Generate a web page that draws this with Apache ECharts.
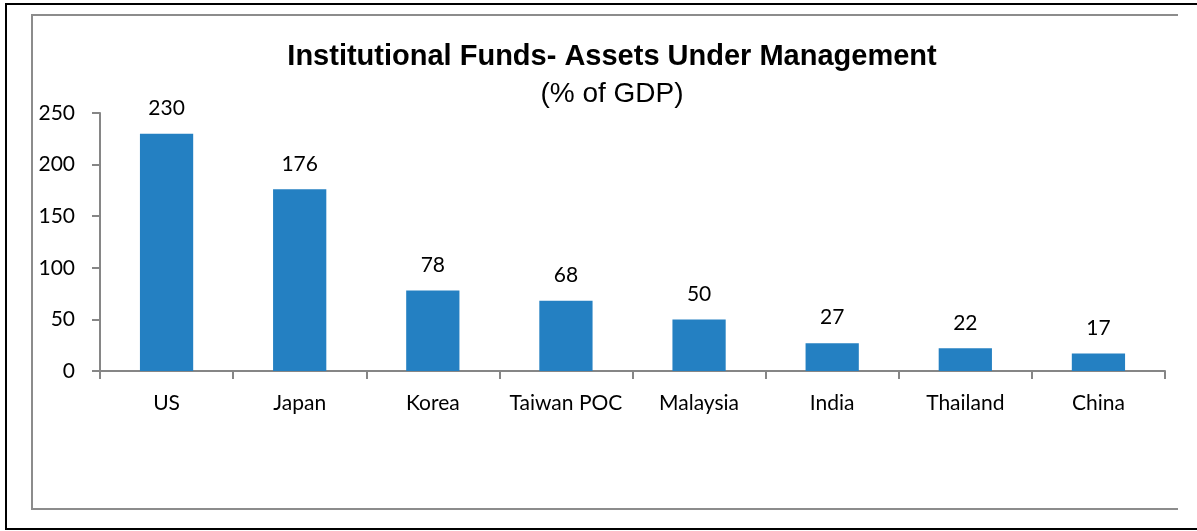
<!DOCTYPE html>
<html>
<head>
<meta charset="utf-8">
<script src="https://cdn.jsdelivr.net/npm/echarts@6/dist/echarts.min.js"></script>
<style>
  html, body { margin: 0; padding: 0; background: #fff; }
  #main { width: 1197px; height: 531px; }
</style>
</head>
<body>
<div id="main"></div>
<script>
// data
const categories = ['US', 'Japan', 'Korea', 'Taiwan POC', 'Malaysia', 'India', 'Thailand', 'China']
const aum = [230, 176, 78, 68, 50, 27, 22, 17]
const yTicks = { min: 0, max: 250, interval: 50 }

const myChart = echarts.init(document.getElementById('main'))
const axisGray = '#868686'
const labelFont = 'Lato, "Open Sans", sans-serif'

const option = {
  backgroundColor: '#fff',
  animation: false,
  title: [
    {
      text: 'Institutional Funds- Assets Under Management',
      left: 607, top: 37, textAlign: 'center',
      textStyle: { fontFamily: '"Liberation Sans", Arial', fontWeight: 'bold', fontSize: 29, color: '#000' }
    },
    {
      text: '(% of GDP)',
      left: 607, top: 75, textAlign: 'center',
      textStyle: { fontFamily: '"Liberation Sans", Arial', fontWeight: 'normal', fontSize: 28, color: '#000' }
    }
  ],
  // outer frame and inner chart-area border
  graphic: [
    { type: 'polyline', shape: { points: [[1200, 4], [6, 4], [6, 529], [1200, 529]] }, style: { stroke: '#000', lineWidth: 2, fill: null } },
    { type: 'polyline', shape: { points: [[1178, 15], [32, 15], [32, 509], [1178, 509]] }, style: { stroke: '#8c8c8c', lineWidth: 2, fill: null } }
  ],
  grid: { left: 100, right: 32, top: 113, bottom: 160 },
  xAxis: {
    type: 'category',
    data: categories,
    axisLine: { lineStyle: { color: axisGray, width: 2 } },
    axisTick: { show: true, interval: 0, length: 8, alignWithLabel: false, lineStyle: { color: axisGray, width: 2 } },
    axisLabel: { interval: 0, hideOverlap: false, color: '#000', fontFamily: labelFont, fontSize: 21, margin: 22 }
  },
  yAxis: {
    type: 'value',
    min: yTicks.min, max: yTicks.max, interval: yTicks.interval,
    axisLine: { show: true, lineStyle: { color: axisGray, width: 2 } },
    axisTick: { show: true, length: 8, lineStyle: { color: axisGray, width: 2 } },
    splitLine: { show: false },
    axisLabel: { color: '#000', fontFamily: labelFont, fontSize: 21, margin: 25 }
  },
  series: [
    {
      type: 'bar',
      data: aum,
      barWidth: '40%',
      itemStyle: { color: '#2480C2' },
      label: { show: true, position: 'top', distance: 15, color: '#000', fontFamily: labelFont, fontSize: 21 }
    }
  ]
}

myChart.setOption(option)
</script>
</body>
</html>
